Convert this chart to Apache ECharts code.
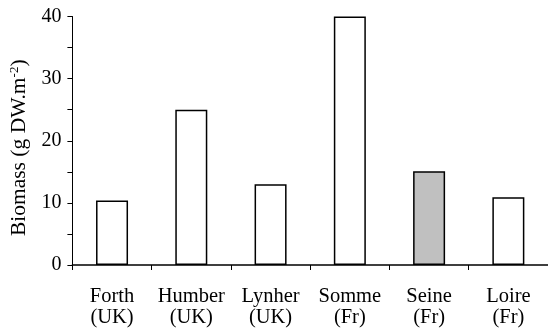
<!DOCTYPE html>
<html><head><meta charset="utf-8">
<script src="https://cdn.jsdelivr.net/npm/echarts@6/dist/echarts.min.js"></script>
<style>html,body{margin:0;padding:0;background:#fff}#c{width:548px;height:328px}</style>
</head><body><div id="c"></div>
<script>
const categories = ["Forth\n(UK)", "Humber\n(UK)", "Lynher\n(UK)", "Somme\n(Fr)", "Seine\n(Fr)", "Loire\n(Fr)"];
const biomass = [10.4, 25, 13, 40, 15.1, 10.9];
const highlighted = [false, false, false, false, true, false];
const yTicks = [0, 10, 20, 30, 40];

const font = "'Liberation Serif','Times New Roman',serif";
const chart = echarts.init(document.getElementById('c'), null, {renderer: 'canvas'});
chart.setOption({
  animation: false,
  grid: {left: 70, top: 16.5, right: 0, bottom: 61, containLabel: false},
  xAxis: {
    type: 'category', data: categories,
    axisLine: {lineStyle: {color: '#000', width: 1.5}},
    axisTick: {show: true, alignWithLabel: false, length: 5, inside: false, lineStyle: {color: '#000'}},
    axisLabel: {color: '#000', fontFamily: font, fontSize: 20.5, lineHeight: 21, margin: 21, interval: 0}
  },
  yAxis: {
    type: 'value', min: 0, max: 40, interval: 5,
    name: '{n|Biomass (g DW.m}{s|-2}{n|)}',
    nameLocation: 'middle', nameGap: 36, nameRotate: 90,
    nameTextStyle: {padding: [0, 14, 0, 0], rich: {
      n: {fontFamily: font, fontSize: 21.5, color: '#000'},
      s: {fontFamily: font, fontSize: 13, color: '#000', verticalAlign: 'top', padding: [0,0,10,0]}
    }},
    axisLine: {show: true, lineStyle: {color: '#000', width: 1}},
    axisTick: {show: true, length: 5, lineStyle: {color: '#000'}},
    splitLine: {show: false},
    axisLabel: {color: '#000', fontFamily: font, fontSize: 20, margin: 11,
      formatter: v => yTicks.includes(v) ? String(v) : ''}
  },
  series: [{
    type: 'bar', barWidth: 32,
    data: biomass.map((v, i) => ({value: v, itemStyle: {color: highlighted[i] ? '#c0c0c0' : '#fff'}})),
    itemStyle: {borderColor: '#000', borderWidth: 1.5}
  }]
});
</script></body></html>
